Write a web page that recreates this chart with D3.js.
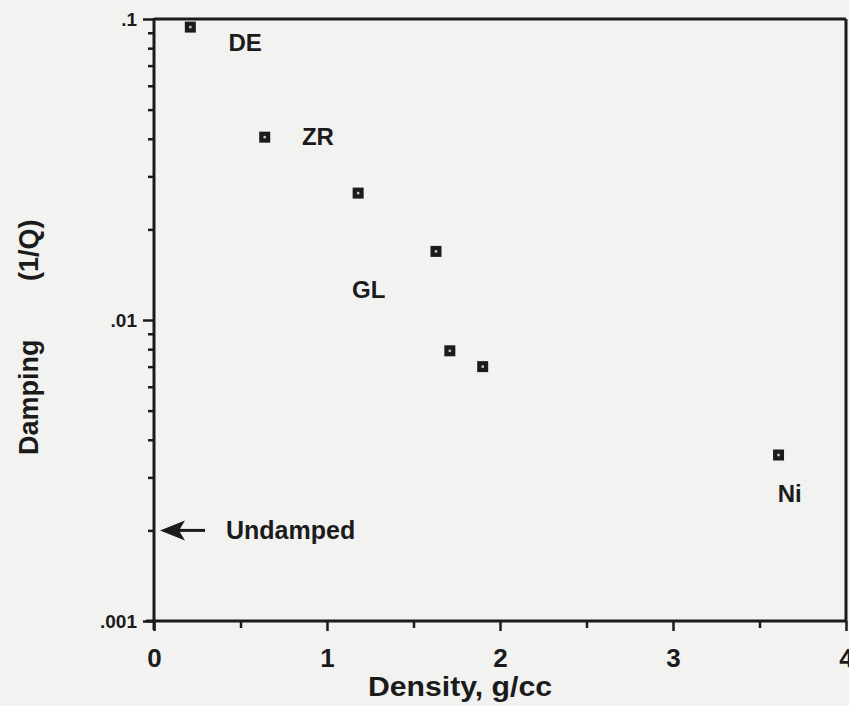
<!DOCTYPE html>
<html>
<head>
<meta charset="utf-8">
<script src="https://cdn.jsdelivr.net/npm/d3@7"></script>
<style>
  body { margin: 0; background: #f2f2f1; }
  svg { display: block; font-family: "Liberation Sans", Arial, Helvetica, sans-serif; font-weight: bold; }
</style>
</head>
<body>
<svg id="chart"></svg>
<script>
// density (g/cc) and damping (1/Q)
var density = [0.21, 0.64, 1.18, 1.63, 1.71, 1.90, 3.61];
var damping = [0.094, 0.0405, 0.0264, 0.0169, 0.0079, 0.0070, 0.00356];

// labels placed beside some points (x in density, y in damping)
var labelText = ["DE", "ZR", "GL", "Ni"];
var labelX = [0.43, 0.855, 1.145, 3.605];
var labelY = [0.0785, 0.0382, 0.0118, 0.00248];

var xTicks = [0, 1, 2, 3, 4];
var yMajor = [0.001, 0.01, 0.1];
var undamped = 0.002;

var width = 849, height = 706;
var ink = "#1b1b1b";

var svg = d3.select("#chart").attr("width", width).attr("height", height);

var x = d3.scaleLinear().domain([0, 4]).range([154, 846]);
var y = d3.scaleLog().domain([0.001, 0.1]).range([621, 19]);

// frame top + right
svg.append("line").attr("x1", x(0)).attr("x2", x(4)).attr("y1", y(0.1)).attr("y2", y(0.1))
  .attr("stroke", ink).attr("stroke-width", 3);
svg.append("line").attr("x1", x(4)).attr("x2", x(4)).attr("y1", y(0.1)).attr("y2", y(0.001))
  .attr("stroke", ink).attr("stroke-width", 3);

// y axis (log)
var fmt = function (d) { return d3.format(".3~f")(d).replace(/^0/, ""); };
var yAxis = svg.append("g")
  .attr("transform", "translate(" + x(0) + ",0)")
  .call(d3.axisLeft(y)
    .tickValues(y.ticks())
    .tickSize(6)
    .tickFormat(function (d) { return yMajor.indexOf(d) >= 0 ? fmt(d) : ""; }));
yAxis.select(".domain").remove();
yAxis.selectAll(".tick line").attr("stroke", ink).attr("stroke-width", 2.5).attr("x2", -6).attr("x1", 1);
yAxis.selectAll(".tick").filter(function (d) { return yMajor.indexOf(d) >= 0; })
  .select("line").attr("x2", -11);
yAxis.selectAll(".tick text").attr("fill", ink).attr("font-size", 19).attr("x", -17).attr("dy", "0.35em");
svg.append("line").attr("x1", x(0)).attr("x2", x(0)).attr("y1", y(0.1) - 1).attr("y2", y(0.001) + 9)
  .attr("stroke", ink).attr("stroke-width", 3);

// x axis
var xAxis = svg.append("g")
  .attr("transform", "translate(0," + y(0.001) + ")")
  .call(d3.axisBottom(x)
    .tickValues(d3.range(0, 4.01, 0.5))
    .tickSize(7)
    .tickFormat(function (d) { return xTicks.indexOf(d) >= 0 ? d : ""; }));
xAxis.select(".domain").remove();
xAxis.selectAll(".tick line").attr("stroke", ink).attr("stroke-width", 2.5);
xAxis.selectAll(".tick").filter(function (d) { return xTicks.indexOf(d) >= 0; })
  .select("line").attr("y2", 10);
xAxis.selectAll(".tick text").attr("fill", ink).attr("font-size", 26).attr("y", 46).attr("dy", 0);
svg.append("line").attr("x1", x(0) - 8).attr("x2", x(4)).attr("y1", y(0.001)).attr("y2", y(0.001))
  .attr("stroke", ink).attr("stroke-width", 3);

// axis titles
svg.append("text").attr("x", 460).attr("y", 696).attr("text-anchor", "middle")
  .attr("font-size", 27).attr("fill", ink).attr("textLength", 184).attr("lengthAdjust", "spacingAndGlyphs")
  .text("Density, g/cc");
svg.append("text").attr("transform", "translate(38,455) rotate(-90)")
  .attr("font-size", 27).attr("fill", ink).text("Damping");
svg.append("text").attr("transform", "translate(38,281) rotate(-90)")
  .attr("font-size", 27).attr("fill", ink).text("(1/Q)");

// data markers: dark square with a light pinhole
var pts = svg.append("g").selectAll("g").data(density).enter().append("g")
  .attr("transform", function (d, i) { return "translate(" + x(d) + "," + y(damping[i]) + ")"; });
pts.append("rect").attr("x", -5.5).attr("y", -5.5).attr("width", 11).attr("height", 11).attr("fill", ink);
pts.append("rect").attr("x", -1.25).attr("y", -1.25).attr("width", 2.5).attr("height", 2.5).attr("fill", "#c4c4c4");

// point labels
svg.append("g").selectAll("text").data(labelText).enter().append("text")
  .attr("x", function (d, i) { return x(labelX[i]); })
  .attr("y", function (d, i) { return y(labelY[i]); })
  .attr("font-size", 24).attr("fill", ink)
  .text(function (d) { return d; });

// undamped arrow
var ay = y(undamped);
svg.append("line").attr("x1", x(0) + 22).attr("x2", x(0) + 51).attr("y1", ay).attr("y2", ay)
  .attr("stroke", ink).attr("stroke-width", 3);
svg.append("path")
  .attr("d", "M" + (x(0) + 6) + "," + ay + " L" + (x(0) + 31) + "," + (ay - 10) +
    " L" + (x(0) + 25) + "," + ay + " L" + (x(0) + 31) + "," + (ay + 10) + " Z")
  .attr("fill", ink);
svg.append("text").attr("x", 226).attr("y", ay + 9).attr("font-size", 25).attr("fill", ink).text("Undamped");
</script>
</body>
</html>
